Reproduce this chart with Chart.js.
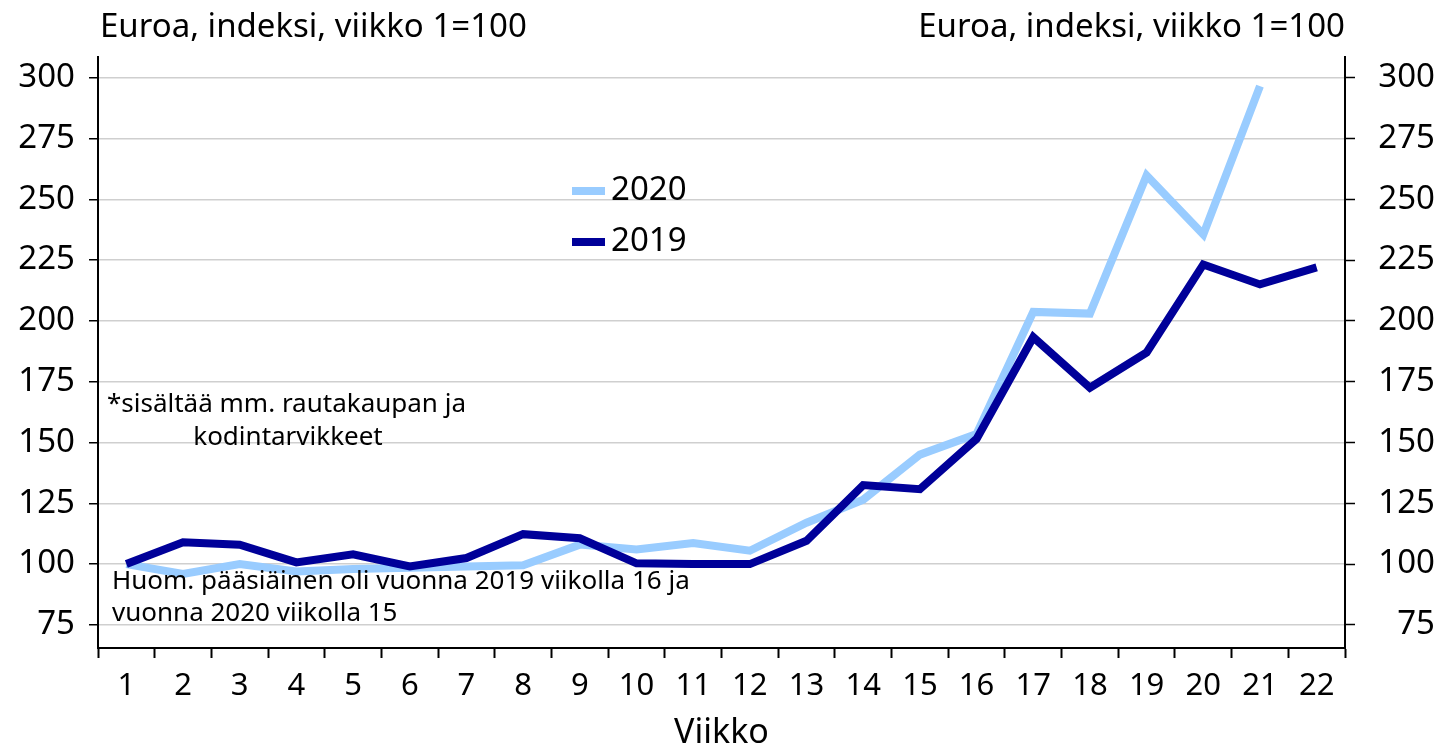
<!DOCTYPE html>
<html>
<head>
<meta charset="utf-8">
<script src="https://cdn.jsdelivr.net/npm/chart.js@4/dist/chart.umd.min.js"></script>
<style>
  html, body { margin: 0; padding: 0; background: #fff; }
  #wrap { width: 1435px; height: 750px; }
</style>
</head>
<body>
<div id="wrap"><canvas id="salesChart" width="1435" height="750"></canvas></div>
<script>
const weeks = ["1","2","3","4","5","6","7","8","9","10","11","12","13","14","15","16","17","18","19","20","21","22"];
const sales2020 = [100, 96, 100, 97, 98, 98.5, 99, 99.5, 108, 106, 108.7, 105.5, 117, 126.5, 145, 153.5, 203.7, 203, 259.8, 235.5, 296.5];
const sales2019 = [100, 109, 108, 100.7, 104, 99, 102.5, 112.3, 110.6, 100.3, 100, 100, 109.6, 132.5, 130.8, 151.5, 193.3, 172.5, 187, 223.2, 215, 222];
const yTicks = [75, 100, 125, 150, 175, 200, 225, 250, 275, 300];

const axisTitle = "Euroa, indeksi, viikko 1=100";
const noteTop = ["*sisältää mm. rautakaupan ja", "kodintarvikkeet"];
const noteBottom = ["Huom. pääsiäinen oli vuonna 2019 viikolla 16 ja", "vuonna 2020 viikolla 15"];

const FONT = "'Noto Sans', sans-serif";
const light = "#99ccff";
const dark = "#000099";

// titles, notes and legend drawn straight on the canvas
const extras = {
  id: "extras",
  afterDraw(chart) {
    const c = chart.ctx;
    const area = chart.chartArea;
    c.save();
    c.fillStyle = "#000";
    c.textBaseline = "middle";

    c.font = "33px " + FONT;
    c.textAlign = "left";
    c.fillText(axisTitle, area.left + 2, 28);
    c.textAlign = "right";
    c.fillText(axisTitle, area.right, 28);

    c.font = "26px " + FONT;
    c.textAlign = "left";
    c.fillText(noteTop[0], 107, 405);
    c.textAlign = "center";
    c.fillText(noteTop[1], 288, 438);
    c.textAlign = "left";
    c.fillText(noteBottom[0], 112, 582);
    c.fillText(noteBottom[1], 112, 614);

    const legend = [["2020", light, 191], ["2019", dark, 242]];
    c.font = "33px " + FONT;
    legend.forEach(([label, color, y]) => {
      c.strokeStyle = color;
      c.lineWidth = 8;
      c.beginPath();
      c.moveTo(572, y);
      c.lineTo(605, y);
      c.stroke();
      c.fillStyle = "#000";
      c.fillText(label, 611, y);
    });
    c.restore();
  }
};

const fixTicks = (scale) => {
  scale.ticks = yTicks.map((v) => ({ value: v }));
};

new Chart(document.getElementById("salesChart"), {
  type: "line",
  data: {
    labels: weeks,
    datasets: [
      {
        label: "2019",
        data: sales2019,
        borderColor: dark,
        borderWidth: 8,
        pointRadius: 0,
        tension: 0,
        yAxisID: "y"
      },
      {
        label: "2020",
        data: sales2020,
        borderColor: light,
        borderWidth: 8,
        pointRadius: 0,
        tension: 0,
        yAxisID: "y"
      }
    ]
  },
  options: {
    responsive: false,
    animation: false,
    layout: { padding: { top: 57, left: 0, right: 0, bottom: 0 } },
    plugins: {
      legend: { display: false },
      tooltip: { enabled: false }
    },
    scales: {
      x: {
        offset: true,
        afterFit: (s) => { s.height = 102; },
        grid: {
          offset: true,
          drawOnChartArea: false,
          drawTicks: true,
          tickLength: 10,
          tickColor: "#000",
          tickWidth: 2
        },
        border: { color: "#000", width: 2 },
        ticks: {
          color: "#000",
          font: { family: FONT, size: 31 },
          padding: 10,
          maxRotation: 0,
          autoSkip: false
        },
        title: {
          display: true,
          text: "Viikko",
          color: "#000",
          font: { family: FONT, size: 34, lineHeight: 1 },
          padding: { top: 0, bottom: 0 }
        }
      },
      y: {
        position: "left",
        min: 65.5,
        max: 308.5,
        afterBuildTicks: fixTicks,
        afterFit: (s) => { s.width = 98; },
        grid: {
          color: "#cfcfcf",
          lineWidth: 1.5,
          tickLength: 9,
          tickColor: "#000",
          tickWidth: 1.5
        },
        border: { color: "#000", width: 2 },
        ticks: {
          color: "#000",
          font: { family: FONT, size: 33 },
          padding: 14
        }
      },
      y2: {
        position: "right",
        min: 65.5,
        max: 308.5,
        afterBuildTicks: fixTicks,
        afterFit: (s) => { s.width = 90; },
        grid: {
          drawOnChartArea: false,
          tickLength: 10,
          tickColor: "#000",
          tickWidth: 1.5
        },
        border: { color: "#000", width: 2 },
        ticks: {
          color: "#000",
          font: { family: FONT, size: 33 },
          padding: 12,
          crossAlign: "far"
        }
      }
    }
  },
  plugins: [extras]
});
</script>
</body>
</html>
